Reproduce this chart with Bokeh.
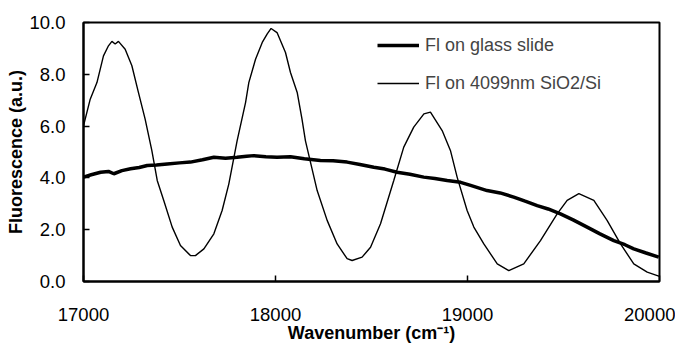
from bokeh.plotting import figure
from bokeh.models import Legend, LegendItem, NumeralTickFormatter, FixedTicker
from bokeh.embed import file_html
from bokeh.resources import INLINE

# Fl on glass slide (thick line)
glass_x = [17000, 17040, 17089, 17130, 17158, 17200, 17245, 17290, 17332, 17380, 17436, 17500,
           17557, 17620, 17679, 17740, 17800, 17850, 17887, 17950, 18008, 18078, 18150, 18234,
           18300, 18373, 18440, 18512, 18570, 18633, 18700, 18772, 18830, 18894, 18964, 19016,
           19102, 19170, 19241, 19300, 19363, 19420, 19484, 19550, 19623, 19690, 19762, 19820,
           19866, 19930, 19996]
glass_y = [4.03, 4.12, 4.22, 4.25, 4.16, 4.28, 4.35, 4.40, 4.48, 4.50, 4.54, 4.58,
           4.61, 4.70, 4.80, 4.76, 4.80, 4.84, 4.86, 4.82, 4.80, 4.82, 4.74, 4.67,
           4.66, 4.61, 4.52, 4.41, 4.34, 4.22, 4.14, 4.03, 3.98, 3.90, 3.83, 3.71,
           3.51, 3.42, 3.26, 3.10, 2.93, 2.80, 2.61, 2.38, 2.10, 1.84, 1.58, 1.42,
           1.26, 1.10, 0.94]

# Fl on 4099nm SiO2/Si (thin line)
sio2_x = [17000, 17035, 17070, 17104, 17130, 17148, 17165, 17182, 17217, 17252, 17286, 17321,
          17356, 17384, 17418, 17462, 17505, 17557, 17583, 17627, 17679, 17722, 17757, 17800,
          17844, 17861, 17896, 17931, 17957, 17977, 18008, 18052, 18078, 18113, 18138, 18156,
          18217, 18269, 18321, 18373, 18399, 18451, 18495, 18547, 18616, 18668, 18720, 18773,
          18807, 18868, 18911, 18946, 18998, 19033, 19085, 19155, 19215, 19293, 19380, 19467,
          19519, 19580, 19658, 19727, 19797, 19866, 19936, 20000]
sio2_y = [6.01, 7.04, 7.68, 8.71, 9.10, 9.27, 9.17, 9.27, 8.97, 8.33, 7.30, 6.27,
          5.05, 3.90, 3.13, 2.10, 1.39, 1.00, 1.00, 1.26, 1.84, 2.74, 3.77, 5.43,
          6.91, 7.68, 8.58, 9.23, 9.56, 9.77, 9.61, 8.84, 8.07, 7.30, 6.27, 5.43,
          3.51, 2.36, 1.45, 0.88, 0.81, 0.94, 1.32, 2.23, 3.90, 5.19, 5.96, 6.47,
          6.54, 5.83, 5.06, 4.03, 2.74, 2.10, 1.45, 0.68, 0.42, 0.68, 1.58, 2.61,
          3.13, 3.39, 3.13, 2.36, 1.45, 0.68, 0.36, 0.20]

x_ticks = [17000, 18000, 19000, 20000]
y_ticks = [0, 2, 4, 6, 8, 10]
labels = ["Fl on glass slide", "Fl on 4099nm SiO2/Si"]

FONT = "Liberation Sans"

p = figure(width=675, height=345, output_backend="svg", toolbar_location=None,
           x_range=(17000, 20000), y_range=(0, 10),
           min_border_left=83, min_border_right=16, min_border_top=22, min_border_bottom=64)

r1 = p.line(glass_x, glass_y, line_color="black", line_width=3.5)
r2 = p.line(sio2_x, sio2_y, line_color="black", line_width=1.4)

p.xgrid.visible = False
p.ygrid.visible = False
p.outline_line_color = "black"
p.outline_line_width = 2

for ax in (p.xaxis[0], p.yaxis[0]):
    ax.axis_line_color = "black"
    ax.axis_line_width = 2
    ax.major_tick_in = 6
    ax.major_tick_out = 0
    ax.major_tick_line_color = "black"
    ax.major_tick_line_width = 1.5
    ax.minor_tick_line_color = None
    ax.major_label_text_font = FONT
    ax.major_label_text_font_size = "18.5px"
    ax.major_label_text_color = "black"
    ax.axis_label_text_font = FONT
    ax.axis_label_text_font_style = "bold"
    ax.axis_label_text_font_size = "18px"
    ax.axis_label_text_color = "black"

p.xaxis.ticker = FixedTicker(ticks=x_ticks)
p.yaxis.ticker = FixedTicker(ticks=y_ticks)
p.yaxis.formatter = NumeralTickFormatter(format="0.0")
p.xaxis.formatter = NumeralTickFormatter(format="0")
p.xaxis.major_label_standoff = 26
p.yaxis.major_label_standoff = 18
p.xaxis.axis_label = "Wavenumber (cm\u207b\u00b9)"
p.yaxis.axis_label = "Fluorescence (a.u.)"
p.xaxis.axis_label_standoff = -1
p.yaxis.axis_label_standoff = 0

legend = Legend(items=[LegendItem(label=labels[0], renderers=[r1]),
                       LegendItem(label=labels[1], renderers=[r2])],
                location=(294, 187))
legend.border_line_color = None
legend.background_fill_alpha = 0
legend.padding = 0
legend.margin = 0
legend.spacing = 16
legend.glyph_width = 42
legend.glyph_height = 22
legend.label_height = 22
legend.label_standoff = 6
legend.label_text_font = FONT
legend.label_text_font_size = "18px"
p.add_layout(legend)

open("out.html", "w").write(file_html(p, INLINE))
